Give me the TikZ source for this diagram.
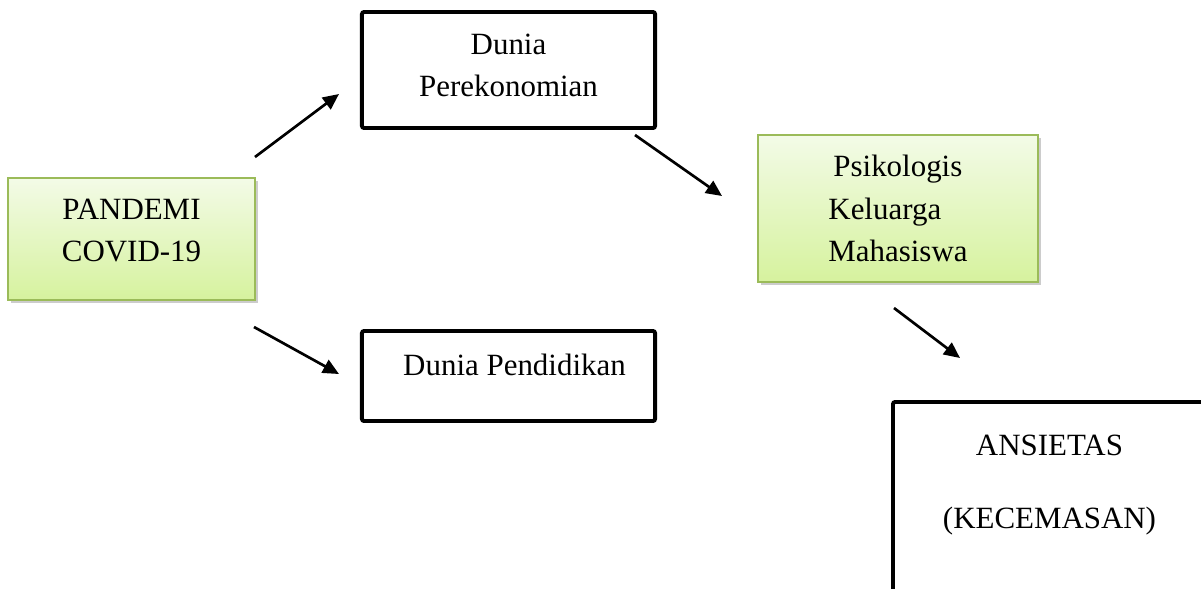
\documentclass[tikz,border=0pt]{standalone}
\usepackage{fontspec}
\setmainfont{Liberation Serif}
\usetikzlibrary{arrows.meta,shadows}
\definecolor{leaftop}{HTML}{F3FBE7}
\definecolor{leafbot}{HTML}{D6F29E}
\definecolor{leafline}{HTML}{9BBB59}
\definecolor{shadowgray}{HTML}{808080}
\newcommand{\lowerpad}[1]{\rule[-#1]{0pt}{#1}}

\begin{document}
\begin{tikzpicture}[
  x=0.025cm, y=-0.025cm,
  font=\fontsize{22}{30}\selectfont,
  leaf/.style  = {draw=leafline, line width=1.4pt, top color=leaftop, bottom color=leafbot,
                  drop shadow={shadow xshift=0.8mm, shadow yshift=-0.8mm, opacity=0.4, fill=shadowgray},
                  inner sep=0pt, align=center},
  frame/.style = {draw=black, line width=2.8pt, rounded corners=1.5pt, fill=white,
                  inner sep=0pt, align=center},
  ln/.style    = {-{Triangle[length=4mm, width=3.6mm]}, line width=1.9pt},
]
\clip (0,0) rectangle (1201,588);

% --- the cause, and the two worlds it touches ----------------------------------------------------
\node[leaf,  minimum width=6.175cm, minimum height=3.05cm] (pandemi) at (131.5,239)
     {PANDEMI\\COVID-19\lowerpad{0.45cm}};
\node[frame, minimum width=7.325cm, minimum height=2.9cm]  (ekonomi) at (508.5,70)
     {Dunia\\Perekonomian\lowerpad{0.25cm}};
\node[frame, minimum width=7.325cm, minimum height=2.25cm] (didik)   at (508.5,376)
     {\hspace*{0.3cm}Dunia Pendidikan\lowerpad{0.55cm}};

% --- the family, and what follows ---------------------------------------------------------------
\node[leaf,  minimum width=7cm, minimum height=3.675cm, align=left] (psiko) at (898,208.5)
     {\hspace*{0.125cm}Psikologis\\Keluarga\\Mahasiswa};
\node[frame, minimum width=7.825cm, minimum height=4.95cm] (ansietas) at (1049.5,501)
     {ANSIETAS\\[22pt](KECEMASAN)\lowerpad{0.95cm}};

% --- the free arrows between the boxes -----------------------------------------------------------
\coordinate (toEkoS) at (255,157);  \coordinate (toEkoE) at (339,94);
\coordinate (toDikS) at (254,327);  \coordinate (toDikE) at (339,374);
\coordinate (toPsiS) at (635,135);  \coordinate (toPsiE) at (722,196);
\coordinate (toAnsS) at (894,308);  \coordinate (toAnsE) at (960,358);

\draw[ln] (toEkoS) -- (toEkoE);
\draw[ln] (toDikS) -- (toDikE);
\draw[ln] (toPsiS) -- (toPsiE);
\draw[ln] (toAnsS) -- (toAnsE);

\end{tikzpicture}
\end{document}
